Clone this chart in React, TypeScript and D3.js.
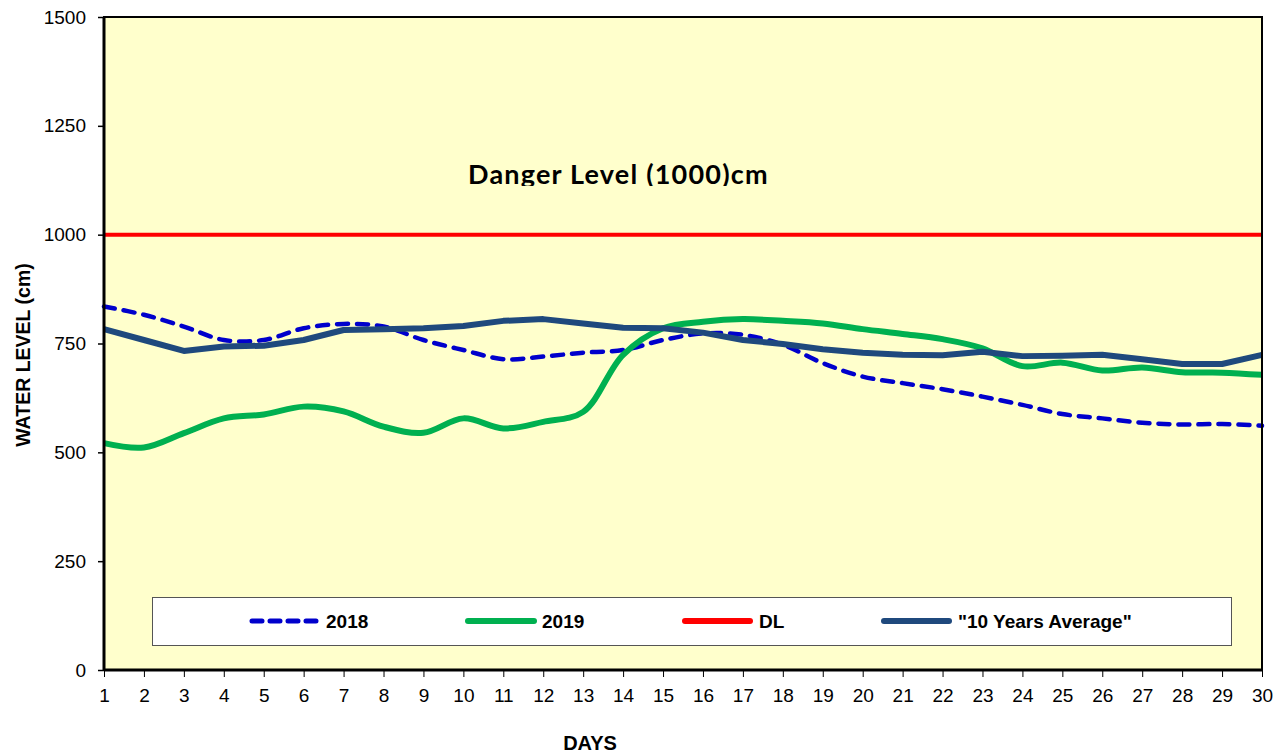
import {useEffect, useRef} from "react";
import * as d3 from "d3";

// data
const days = d3.range(1, 31);
const yTicks = [0, 250, 500, 750, 1000, 1250, 1500];
const dangerLevel = 1000;

const level2018 = [835, 816, 789, 758, 758, 785, 795, 789, 758, 735,
    714, 720, 729, 735, 758, 773, 770, 747, 705, 674,
    659, 645, 628, 609, 588, 578, 568, 564, 565, 561];
const level2019 = [521, 511, 544, 578, 587, 605, 594, 559, 545, 578,
    555, 570, 593, 724, 785, 800, 806, 802, 796, 783,
    772, 760, 739, 698, 706, 688, 695, 684, 683, 678];
const tenYearAvg = [783, 758, 733, 743, 745, 758, 781, 783, 785, 790,
    802, 806, 796, 786, 785, 775, 758, 749, 737, 729,
    724, 723, 731, 721, 722, 724, 714, 703, 703, 724];

const legendItems = [
    {label: "2018", color: "#0000CC", width: 5, dash: "10 8", x0: 249, x1: 320, tx: 326},
    {label: "2019", color: "#00B050", width: 6, dash: null, x0: 465, x1: 537, tx: 542},
    {label: "DL", color: "#FF0000", width: 6, dash: null, x0: 682, x1: 753, tx: 759},
    {label: "\"10 Years Average\"", color: "#1F497D", width: 6, dash: null, x0: 881, x1: 952, tx: 958},
];

const W = 1287, H = 756;
const FONT = "Arial, 'Liberation Sans', sans-serif";

const WaterLevelChart = () => {
    const ref = useRef<SVGSVGElement>(null);

    useEffect(() => {
        if (!ref.current) return;
        const svg = d3.select(ref.current);
        svg.selectAll("*").remove();

        const left = 104, right = 1262, top = 17, bottom = 670;

        const x = d3.scaleLinear().domain([1, 30]).range([left, right]);
        const y = d3.scaleLinear().domain([0, 1500]).range([bottom, top]);

        // plot background
        svg.append("rect")
            .attr("x", left).attr("y", top)
            .attr("width", right - left).attr("height", bottom - top)
            .attr("fill", "#FFFFCC");

        // danger text, clipped at the bottom like the original text box
        svg.append("clipPath").attr("id", "dangerClip")
            .append("rect").attr("x", 440).attr("y", 140).attr("width", 400).attr("height", 46);
        svg.append("text")
            .attr("clip-path", "url(#dangerClip)")
            .attr("x", 468).attr("y", 184)
            .attr("font-family", "Lato, 'Open Sans', sans-serif")
            .attr("font-weight", "bold")
            .attr("font-size", 27)
            .attr("letter-spacing", 1.2)
            .attr("fill", "#000")
            .text("Danger Level (1000)cm");

        // danger line
        svg.append("line")
            .attr("x1", left).attr("x2", right)
            .attr("y1", y(dangerLevel)).attr("y2", y(dangerLevel))
            .attr("stroke", "#FF0000").attr("stroke-width", 4);

        const smooth = d3.line<number>()
            .x((d, i) => x(days[i]))
            .y(d => y(d))
            .curve(d3.curveCatmullRom.alpha(0.5));
        const straight = d3.line<number>()
            .x((d, i) => x(days[i]))
            .y(d => y(d));

        svg.append("path").datum(level2018)
            .attr("d", smooth)
            .attr("fill", "none")
            .attr("stroke", "#0000CC")
            .attr("stroke-width", 4.5)
            .attr("stroke-dasharray", "11 9")
            .attr("stroke-linecap", "round");

        svg.append("path").datum(level2019)
            .attr("d", smooth)
            .attr("fill", "none")
            .attr("stroke", "#00B050")
            .attr("stroke-width", 6)
            .attr("stroke-linejoin", "round");

        svg.append("path").datum(tenYearAvg)
            .attr("d", straight)
            .attr("fill", "none")
            .attr("stroke", "#1F497D")
            .attr("stroke-width", 6)
            .attr("stroke-linejoin", "round");

        // legend
        const lg = svg.append("g");
        lg.append("rect")
            .attr("x", 152.5).attr("y", 597.5)
            .attr("width", 1079).attr("height", 48)
            .attr("fill", "#fff").attr("stroke", "#555").attr("stroke-width", 1);
        legendItems.forEach(it => {
            lg.append("line")
                .attr("x1", it.x0 + 3).attr("x2", it.x1 - 3)
                .attr("y1", 621).attr("y2", 621)
                .attr("stroke", it.color)
                .attr("stroke-width", it.width)
                .attr("stroke-linecap", "round")
                .attr("stroke-dasharray", it.dash);
            lg.append("text")
                .attr("x", it.tx).attr("y", 628)
                .attr("font-family", FONT)
                .attr("font-weight", "bold")
                .attr("font-size", 19)
                .text(it.label);
        });

        // frame
        svg.append("rect")
            .attr("x", left).attr("y", top)
            .attr("width", right - left).attr("height", bottom - top)
            .attr("fill", "none").attr("stroke", "#000").attr("stroke-width", 2);
        svg.append("line")
            .attr("x1", left).attr("x2", left).attr("y1", top).attr("y2", bottom)
            .attr("stroke", "#000").attr("stroke-width", 3);
        svg.append("line")
            .attr("x1", left).attr("x2", right).attr("y1", bottom).attr("y2", bottom)
            .attr("stroke", "#000").attr("stroke-width", 3);

        // axes
        const yAxis = svg.append("g")
            .attr("transform", `translate(${left},0)`)
            .call(d3.axisLeft(y).tickValues(yTicks).tickSize(6).tickPadding(12).tickFormat(d3.format("d")));
        yAxis.select(".domain").remove();
        yAxis.selectAll("line").attr("stroke", "#000").attr("stroke-width", 1.5);
        yAxis.selectAll("text")
            .attr("font-family", FONT)
            .attr("font-size", 19).attr("fill", "#000");

        const xAxis = svg.append("g")
            .attr("transform", `translate(0,${bottom})`)
            .call(d3.axisBottom(x).tickValues(days).tickSize(7).tickPadding(12).tickFormat(d3.format("d")));
        xAxis.select(".domain").remove();
        xAxis.selectAll("line").attr("stroke", "#000").attr("stroke-width", 1);
        xAxis.selectAll("text")
            .attr("font-family", FONT)
            .attr("font-size", 19).attr("fill", "#000");

        // axis titles
        svg.append("text")
            .attr("x", 590).attr("y", 750)
            .attr("text-anchor", "middle")
            .attr("font-family", FONT)
            .attr("font-weight", "bold").attr("font-size", 20)
            .text("DAYS");

        svg.append("text")
            .attr("transform", `translate(30,${355}) rotate(-90)`)
            .attr("text-anchor", "middle")
            .attr("font-family", FONT)
            .attr("font-weight", "bold").attr("font-size", 19.5)
            .text("WATER LEVEL (cm)");
    }, []);

    return <svg ref={ref} width={W} height={H} style={{display: "block"}}/>;
};

export default function App() {
    return (
        <div style={{position: "fixed", left: 0, top: 0, background: "#fff"}}>
            <WaterLevelChart/>
        </div>
    );
}
